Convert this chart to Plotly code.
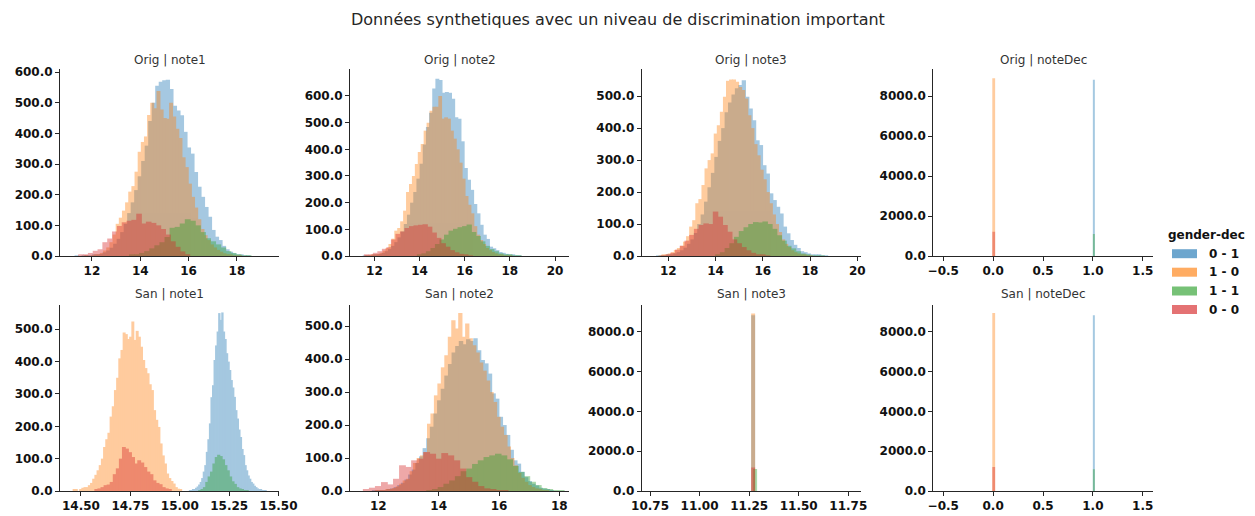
import plotly.graph_objects as go

W, H = 1255, 516
FONT = "DejaVu Sans"
TEXT = "#262626"

TITLE = "Données synthetiques avec un niveau de discrimination important"
LEGEND_TITLE = "gender-dec"
GROUPS = ["0 - 1", "1 - 0", "1 - 1", "0 - 0"]
COLORS = ["#1f77b4", "#ff7f0e", "#2ca02c", "#d62728"]
PANEL_TITLES = ["Orig | note1", "Orig | note2", "Orig | note3", "Orig | noteDec",
                "San | note1", "San | note2", "San | note3", "San | noteDec"]

# ---------------- histogram data: first bin edge, bin width, counts ----------------
# group order: 0 - 1, 1 - 0, 1 - 1, 0 - 0
ORIG_NOTE1_EDGES = [11.3, 11.7, 13.55, 11.45]
ORIG_NOTE1_WIDTHS = [0.145, 0.13, 0.21, 0.2]
ORIG_NOTE1_01 = [1, 0, 1, 1, 2, 3, 4, 7, 12, 18, 27, 40, 56, 78, 105, 140, 175, 215, 260, 310,
                 360, 440, 500, 555, 568, 573, 575, 545, 490, 475, 459, 405, 354, 334, 274, 226, 193, 160, 128, 85,
                 63, 52, 33, 22, 14, 9, 5, 3, 2, 2]
ORIG_NOTE1_10 = [1, 0, 2, 3, 6, 10, 18, 28, 45, 70, 105, 125, 148, 175, 210, 228, 275, 340, 372, 390,
                 460, 500, 482, 538, 478, 450, 448, 500, 455, 415, 385, 322, 290, 236, 193, 158, 120, 88, 68, 52,
                 38, 28, 20, 14, 9, 6, 4, 2, 1, 1]
ORIG_NOTE1_11 = [3, 5, 10, 16, 25, 35, 45, 62, 92, 95, 106, 120, 115, 100, 78, 58, 48, 38, 28, 16, 10, 4, 2, 2]
ORIG_NOTE1_00 = [4, 4, 10, 17, 22, 45, 57, 80, 98, 110, 115, 118, 138, 106, 112, 108, 100, 88, 70, 48, 30, 15, 6]

ORIG_NOTE2_EDGES = [11.5, 11.6, 13.9, 11.55]
ORIG_NOTE2_WIDTHS = [0.14, 0.13, 0.2, 0.2]
ORIG_NOTE2_01 = [1, 1, 2, 3, 5, 8, 12, 18, 26, 38, 52, 70, 92, 120, 155, 200, 240, 290, 346, 418,
                 484, 537, 628, 665, 660, 612, 615, 612, 590, 520, 515, 430, 330, 286, 248, 195, 160, 117, 80, 64,
                 35, 29, 22, 15, 12, 8, 5, 3, 2, 2]
ORIG_NOTE2_10 = [1, 1, 3, 5, 8, 12, 20, 30, 45, 65, 95, 105, 130, 170, 240, 270, 300, 345, 390, 420,
                 470, 500, 545, 560, 560, 600, 515, 520, 515, 470, 440, 400, 350, 290, 225, 192, 160, 112, 80, 60,
                 45, 30, 22, 15, 10, 6, 4, 2, 1, 1]
ORIG_NOTE2_11 = [5, 10, 18, 30, 45, 62, 80, 95, 102, 108, 112, 118, 90, 75, 55, 38, 26, 18, 10, 6, 3, 1, 1]
ORIG_NOTE2_00 = [3, 5, 12, 18, 27, 33, 62, 83, 92, 105, 112, 115, 117, 119, 110, 88, 68, 48, 35, 22, 14, 8, 4, 2]

ORIG_NOTE3_EDGES = [11.5, 11.6, 14.0, 11.7]
ORIG_NOTE3_WIDTHS = [0.145, 0.13, 0.2, 0.2]
ORIG_NOTE3_01 = [1, 1, 2, 3, 5, 8, 12, 18, 26, 38, 52, 72, 100, 130, 170, 215, 260, 310, 360, 400,
                 450, 480, 505, 525, 535, 550, 498, 461, 425, 362, 347, 284, 258, 196, 175, 154, 133, 92, 71, 50,
                 35, 25, 15, 12, 8, 5, 4, 3, 2, 1]
ORIG_NOTE3_10 = [2, 3, 5, 8, 12, 19, 25, 32, 45, 62, 92, 112, 165, 178, 222, 274, 300, 321, 383, 409,
                 451, 498, 548, 552, 552, 545, 529, 519, 493, 440, 400, 350, 315, 270, 240, 200, 165, 130, 100, 75,
                 52, 38, 28, 18, 12, 8, 5, 3, 2, 1]
ORIG_NOTE3_11 = [4, 12, 25, 40, 60, 78, 90, 100, 106, 105, 108, 100, 85, 65, 48, 32, 24, 15, 8, 4, 2, 1, 1]
ORIG_NOTE3_00 = [2, 4, 10, 20, 32, 48, 66, 85, 97, 102, 100, 139, 123, 97, 76, 52, 40, 28, 18, 10, 5, 3, 1]

SAN_NOTE1_EDGES = [15.048, 14.46, 15.095, 14.57]
SAN_NOTE1_WIDTHS = [0.0078, 0.011, 0.012, 0.0155]
SAN_NOTE1_01 = [2, 3, 4, 6, 10, 14, 20, 28, 40, 60, 80, 121, 160, 209, 290, 327, 405, 450, 493, 550,
                529, 552, 493, 470, 426, 400, 374, 343, 320, 291, 250, 224, 190, 167, 130, 111, 80, 64, 48, 38,
                28, 23, 16, 12, 8, 5, 4, 3, 2, 1]
SAN_NOTE1_10 = [5, 5, 0, 6, 10, 12, 12, 18, 25, 38, 50, 64, 80, 100, 136, 160, 180, 230, 262, 312,
                350, 410, 436, 490, 485, 470, 477, 524, 467, 495, 477, 446, 405, 380, 364, 330, 312, 250, 220, 198,
                147, 110, 85, 54, 40, 31, 23, 12, 7, 6]
SAN_NOTE1_11 = [3, 6, 12, 28, 45, 60, 85, 105, 112, 108, 98, 80, 64, 45, 30, 22, 12, 8, 4, 2, 1]
SAN_NOTE1_00 = [4, 8, 12, 18, 20, 28, 52, 70, 100, 136, 131, 120, 105, 85, 95, 88, 74, 60, 52, 33, 25, 21, 12, 8, 4]

SAN_NOTE2_EDGES = [11.8, 11.9, 13.6, 11.5]
SAN_NOTE2_WIDTHS = [0.12, 0.115, 0.19, 0.2]
SAN_NOTE2_01 = [1, 1, 2, 3, 5, 8, 12, 18, 25, 35, 50, 65, 85, 105, 130, 160, 195, 235, 275, 310,
                350, 385, 420, 440, 455, 445, 460, 455, 463, 427, 397, 387, 356, 296, 280, 225, 200, 170, 125, 93,
                83, 58, 42, 30, 22, 17, 10, 7, 4, 2]
SAN_NOTE2_10 = [1, 1, 2, 4, 6, 9, 14, 22, 32, 37, 60, 85, 100, 108, 118, 204, 235, 290, 326, 375,
                412, 468, 518, 493, 540, 468, 508, 463, 442, 420, 390, 365, 335, 300, 270, 225, 195, 170, 135, 100,
                78, 55, 40, 28, 18, 12, 8, 5, 3, 2]
SAN_NOTE2_11 = [2, 5, 12, 22, 32, 45, 60, 68, 82, 93, 103, 108, 113, 108, 96, 76, 58, 45, 28, 18, 9, 5, 3, 1]
SAN_NOTE2_00 = [4, 10, 15, 27, 20, 37, 78, 73, 93, 98, 118, 113, 98, 115, 108, 93, 68, 42, 28, 15, 8, 4, 2, 1]

# constant-valued columns: every row falls in one bin of width 1/50 starting at the value
CONST_BIN_WIDTH = 0.02
DEC_VALUES = [1.0, 0.0, 1.0, 0.0]
ORIG_DEC_COUNTS = [8830, 8900, 1100, 1215]
SAN_NOTE3_VALUES = [11.26, 11.26, 11.27, 11.26]
SAN_NOTE3_COUNTS = [8830, 8920, 1100, 1180]
SAN_DEC_COUNTS = [8840, 8950, 1090, 1210]

# ---------------- tick labels ----------------
X_TICKS = [[12, 14, 16, 18], [12, 14, 16, 18, 20], [12, 14, 16, 18, 20], [-0.5, 0, 0.5, 1, 1.5],
           [14.5, 14.75, 15.0, 15.25, 15.5], [12, 14, 16, 18], [10.75, 11.0, 11.25, 11.5, 11.75],
           [-0.5, 0, 0.5, 1, 1.5]]
X_FORMATS = ["d", "d", "d", ".1f", ".2f", "d", ".2f", ".1f"]
Y_TICKS = [[0, 100, 200, 300, 400, 500, 600], [0, 100, 200, 300, 400, 500, 600],
           [0, 100, 200, 300, 400, 500], [0, 2000, 4000, 6000, 8000],
           [0, 100, 200, 300, 400, 500], [0, 100, 200, 300, 400, 500],
           [0, 2000, 4000, 6000, 8000], [0, 2000, 4000, 6000, 8000]]

# ---------------- layout geometry (pixels) ----------------
X_RANGES = [[10.68, 19.74], [10.92, 20.62], [10.874, 20.157], [-0.6, 1.6],
            [14.394, 15.502], [11.06, 18.32], [10.708, 11.814], [-0.6, 1.6]]
Y_MAX = [609, 700, 584, 9350, 575, 564, 9350, 9350]
COL_PX = [(60, 279), (350, 569), (641.7, 861), (933.3, 1152.7)]
ROW_PX = [(69.3, 256), (305, 491)]
TITLE_Y_PX = [60, 294]
SEAM_PX = 0.8  # extra bar width (pixels) so that neighbouring bins join without seams


def const_hist(values, counts):
    return values, [CONST_BIN_WIDTH] * len(values), [[c] for c in counts]


PANELS = [
    (ORIG_NOTE1_EDGES, ORIG_NOTE1_WIDTHS, [ORIG_NOTE1_01, ORIG_NOTE1_10, ORIG_NOTE1_11, ORIG_NOTE1_00]),
    (ORIG_NOTE2_EDGES, ORIG_NOTE2_WIDTHS, [ORIG_NOTE2_01, ORIG_NOTE2_10, ORIG_NOTE2_11, ORIG_NOTE2_00]),
    (ORIG_NOTE3_EDGES, ORIG_NOTE3_WIDTHS, [ORIG_NOTE3_01, ORIG_NOTE3_10, ORIG_NOTE3_11, ORIG_NOTE3_00]),
    const_hist(DEC_VALUES, ORIG_DEC_COUNTS),
    (SAN_NOTE1_EDGES, SAN_NOTE1_WIDTHS, [SAN_NOTE1_01, SAN_NOTE1_10, SAN_NOTE1_11, SAN_NOTE1_00]),
    (SAN_NOTE2_EDGES, SAN_NOTE2_WIDTHS, [SAN_NOTE2_01, SAN_NOTE2_10, SAN_NOTE2_11, SAN_NOTE2_00]),
    const_hist(SAN_NOTE3_VALUES, SAN_NOTE3_COUNTS),
    const_hist(DEC_VALUES, SAN_DEC_COUNTS),
]

fig = go.Figure()
layout = dict(
    width=W, height=H, autosize=False,
    margin=dict(l=0, r=0, t=0, b=0, autoexpand=False),
    paper_bgcolor="white", plot_bgcolor="white",
    barmode="overlay", showlegend=False,
    font=dict(family=FONT, color=TEXT),
)
annotations = []
shapes = []

for p, (edges, widths, series) in enumerate(PANELS):
    row, col = divmod(p, 4)
    ax = "" if p == 0 else str(p + 1)
    x0, x1 = COL_PX[col]
    y0, y1 = ROW_PX[row]
    data_per_px = (X_RANGES[p][1] - X_RANGES[p][0]) / (x1 - x0)
    for g, counts in enumerate(series):
        centers = [edges[g] + widths[g] * (i + 0.5) for i in range(len(counts))]
        bar_w = widths[g] + (SEAM_PX * data_per_px if len(counts) > 1 else 0)
        fig.add_trace(go.Bar(
            x=centers, y=counts, width=bar_w, name=GROUPS[g],
            marker=dict(color=COLORS[g], line=dict(width=0)),
            opacity=0.4, xaxis="x" + ax, yaxis="y" + ax, hoverinfo="skip",
        ))
    common = dict(showline=True, linecolor=TEXT, linewidth=1, ticks="outside", ticklen=4,
                  tickwidth=1, tickcolor=TEXT, showgrid=False, zeroline=False, mirror=False,
                  automargin=False,
                  tickfont=dict(family=FONT, size=12, color="#111111", weight="bold"))
    layout["xaxis" + ax] = dict(common, domain=[x0 / W, x1 / W], range=X_RANGES[p],
                                anchor="y" + ax, tickmode="array", tickvals=X_TICKS[p],
                                tickformat=X_FORMATS[p])
    layout["yaxis" + ax] = dict(common, domain=[1 - y1 / H, 1 - y0 / H], range=[0, Y_MAX[p]],
                                anchor="x" + ax, tickmode="array", tickvals=Y_TICKS[p],
                                tickformat=".1f")
    annotations.append(dict(text=PANEL_TITLES[p], xref="paper", yref="paper",
                            x=(x0 + x1) / 2 / W, y=1 - TITLE_Y_PX[row] / H,
                            xanchor="center", yanchor="middle", showarrow=False,
                            font=dict(family=FONT, size=12, color="#333333")))

annotations.append(dict(text=TITLE, xref="paper", yref="paper", x=618 / W, y=1 - 20 / H,
                        xanchor="center", yanchor="middle", showarrow=False,
                        font=dict(family=FONT, size=16, color=TEXT)))

# legend drawn as patches + text
annotations.append(dict(text="<b>" + LEGEND_TITLE + "</b>", xref="paper", yref="paper",
                        x=1206 / W, y=1 - 235 / H, xanchor="center", yanchor="middle",
                        showarrow=False, font=dict(family=FONT, size=12, color="#111111")))
LEG_Y = [253.7, 272.2, 291.0, 309.5]
for g, name in enumerate(GROUPS):
    yc = LEG_Y[g]
    shapes.append(dict(type="rect", xref="paper", yref="paper",
                       x0=1172 / W, x1=1197 / W, y0=1 - (yc + 4.5) / H, y1=1 - (yc - 4.5) / H,
                       fillcolor=COLORS[g], opacity=0.65, line=dict(width=0)))
    annotations.append(dict(text="<b>" + name + "</b>", xref="paper", yref="paper",
                            x=1207 / W, y=1 - yc / H, xanchor="left", yanchor="middle",
                            showarrow=False, font=dict(family=FONT, size=12, color="#111111")))

layout["annotations"] = annotations
layout["shapes"] = shapes
fig.update_layout(**layout)
fig.write_html("out.html", config={"responsive": False})
